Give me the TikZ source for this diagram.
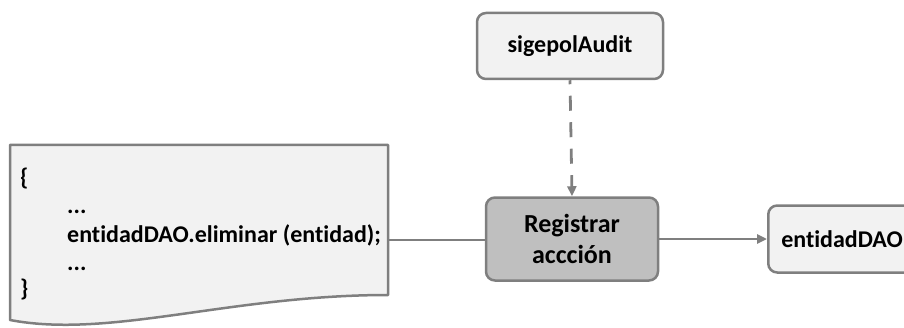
\documentclass[tikz,border=0pt]{standalone}
\usepackage{fontspec}
\setmainfont{Carlito}[RawFeature=-liga]
\usetikzlibrary{arrows.meta}
\definecolor{edge}{HTML}{7F7F7F}
\definecolor{light}{HTML}{F2F2F2}
\definecolor{dark}{HTML}{BFBFBF}
\tikzset{
  box/.style={draw=edge, line width=2.5pt, rounded corners=9pt, fill=light, font=\bfseries\fontsize{24}{28}\selectfont, align=center},
  codetext/.style={anchor=base west, inner sep=0pt, font=\bfseries\fontsize{24}{28}\selectfont},
  conn/.style={draw=edge, line width=2.8pt},
  tip/.style={-{Triangle[length=10pt,width=9pt]}}
}
\begin{document}
\begin{tikzpicture}[x=1pt,y=1pt]
\useasboundingbox (0,0) rectangle (904,327);
\clip (0,0) rectangle (904,327);
% document shape
\draw[edge, line width=2.5pt, fill=light, line join=round]
  (10,182) -- (388,182) -- (388,32) .. controls (230,32) and (110,-12) .. (10,7) -- cycle;
\coordinate (docR) at (388,87);
\node[codetext] (ob) at (20,142) {\{};
\node[codetext] (d1) at (67,114) {...};
\node[codetext] (code) at (67,85) {entidadDAO.eliminar (entidad);};
\node[codetext] (d2) at (67,57) {...};
\node[codetext] (cb) at (20,31) {\}};
% boxes
\node[box, minimum width=186pt, minimum height=66pt] (audit) at (570,281) {sigepolAudit};
\node[box, fill=dark, minimum width=172pt, minimum height=83pt, font=\bfseries\fontsize{26}{31}\selectfont] (reg) at (572,88) {Registrar\\accción};
\node[box, anchor=west, inner xsep=13pt, minimum height=67pt, align=left] (dao) at (767,88) {entidadDAO};
% connectors
\draw[conn] (docR) -- (docR -| reg.west);
\draw[conn, tip, dash pattern=on 15pt off 11.5pt, dash phase=11pt, color=edge] (audit.south) -- (reg.north);
\draw[conn, tip, color=edge] (reg.east) -- (dao.west);
\end{tikzpicture}
\end{document}
